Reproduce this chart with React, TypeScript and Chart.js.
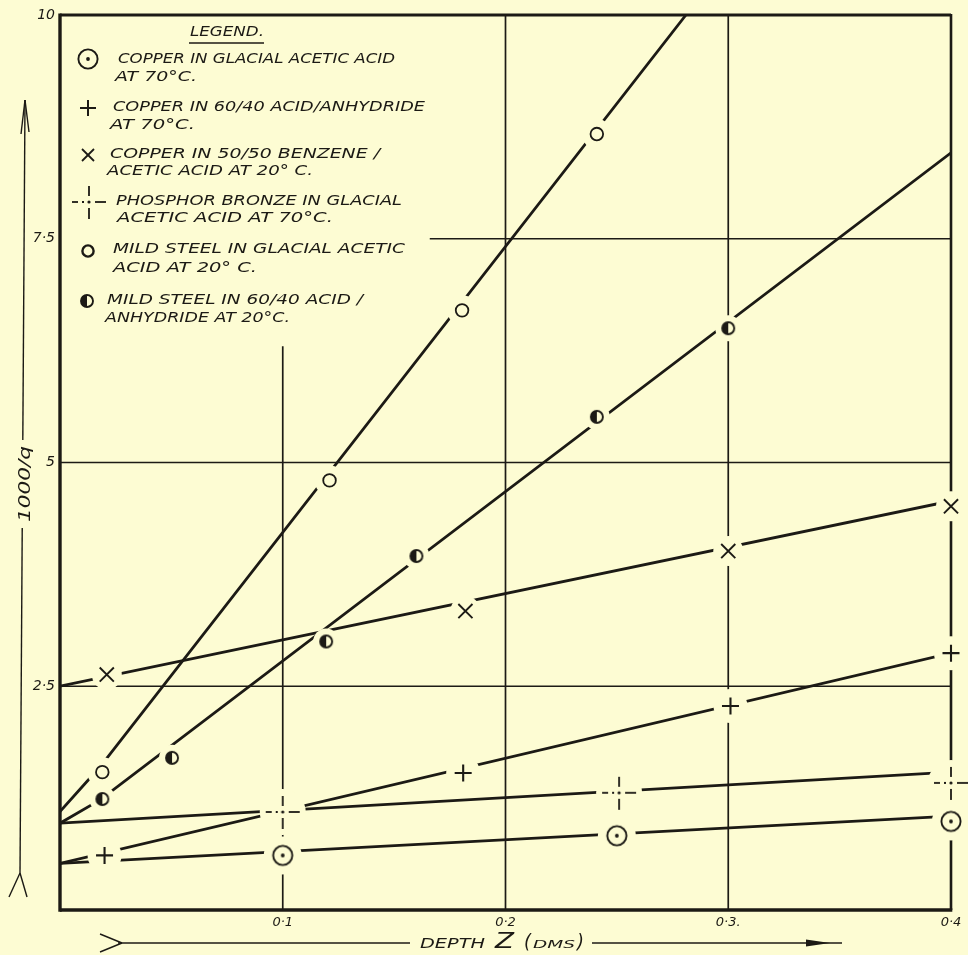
import React, { useEffect, useRef } from "react";
import { Chart, registerables } from "chart.js";

Chart.register(...registerables);

const BG = "#fdfcd3";
const INK = "#1c1a15";
const FAMILY = '"DejaVu Sans"';

// ---- axis ticks ----
const xTickValues = [0.1, 0.2, 0.3, 0.4];
const xTickLabels = ["0·1", "0·2", "0·3.", "0·4"];
const yTickValues = [2.5, 5, 7.5, 10];
const yTickLabels = ["2·5", "5", "7·5", "10"];

const xTitleParts = ["DEPTH", "Z", "(", "DMS", ")"];
const yTitle = "1000/q";
const legendTitle = "LEGEND.";

// ---- series: Copper in glacial acetic acid at 70°C ----
const cuGlacialName = ["COPPER IN GLACIAL ACETIC ACID", "AT 70°C."];
const cuGlacialX = [0.1, 0.25, 0.4];
const cuGlacialY = [0.61, 0.83, 0.99];
const cuGlacialFitX = [0, 0.4];
const cuGlacialFitY = [0.52, 1.05];

// ---- Copper in 60/40 acid/anhydride at 70°C ----
const cuAnhydName = ["COPPER IN 60/40 ACID/ANHYDRIDE", "AT 70°C."];
const cuAnhydX = [0.02, 0.181, 0.301, 0.4];
const cuAnhydY = [0.61, 1.53, 2.28, 2.87];
const cuAnhydFitX = [0, 0.4];
const cuAnhydFitY = [0.52, 2.87];

// ---- Copper in 50/50 benzene/acetic acid at 20°C ----
const cuBenzName = ["COPPER IN 50/50 BENZENE /", "ACETIC ACID AT 20° C."];
const cuBenzX = [0.021, 0.182, 0.3, 0.4];
const cuBenzY = [2.63, 3.34, 4.01, 4.51];
const cuBenzFitX = [0, 0.4];
const cuBenzFitY = [2.5, 4.57];

// ---- Phosphor bronze in glacial acetic acid at 70°C ----
const phosName = ["PHOSPHOR BRONZE IN GLACIAL", "ACETIC ACID AT 70°C."];
const phosX = [0.1, 0.251, 0.4];
const phosY = [1.095, 1.31, 1.42];
const phosFitX = [0, 0.4];
const phosFitY = [0.97, 1.54];

// ---- Mild steel in glacial acetic acid at 20°C ----
const msGlacialName = ["MILD STEEL IN GLACIAL ACETIC", "ACID AT 20° C."];
const msGlacialX = [0.019, 0.121, 0.1805, 0.241];
const msGlacialY = [1.54, 4.8, 6.7, 8.67];
const msGlacialFitX = [0, 0.018, 0.281];
const msGlacialFitY = [1.1, 1.6, 10];

// ---- Mild steel in 60/40 acid/anhydride at 20°C ----
const msAnhydName = ["MILD STEEL IN 60/40 ACID /", "ANHYDRIDE AT 20°C."];
const msAnhydX = [0.019, 0.0503, 0.1195, 0.16, 0.241, 0.3];
const msAnhydY = [1.24, 1.7, 3.0, 3.955, 5.51, 6.5];
const msAnhydFitX = [0, 0.018, 0.4];
const msAnhydFitY = [0.97, 1.23, 8.46];

// ---- partial grid rules (value space) ----
const vGridX = [0.1, 0.2, 0.3];
const vGridTop = [6.3, 10, 10];
const hGridY = [2.5, 5, 7.5];
const hGridStart = [0, 0, 0.166];

// ---- styling / layout (not data) ----
type MarkerKind = "dotCircle" | "plus" | "cross" | "dashCross" | "ring" | "half";
const seriesStyle: { marker: MarkerKind; halo: number }[] = [
  { marker: "dotCircle", halo: 19 },
  { marker: "plus", halo: 17 },
  { marker: "cross", halo: 15 },
  { marker: "dashCross", halo: 23 },
  { marker: "ring", halo: 15 },
  { marker: "half", halo: 13 },
];
const legendLayout = [
  { mx: 88, my: 59, l1: [118, 59, 395], l2: [115, 77, 197] },
  { mx: 88, my: 108, l1: [113, 107, 425], l2: [110, 125, 195] },
  { mx: 88, my: 155, l1: [110, 154, 380], l2: [107, 171, 313] },
  { mx: 89, my: 202, l1: [116, 201, 402], l2: [117, 218, 333] },
  { mx: 88, my: 251, l1: [113, 249, 405], l2: [113, 268, 257] },
  { mx: 87, my: 301, l1: [107, 300, 363], l2: [105, 318, 290] },
];

const allSeries = [
  { name: cuGlacialName, mx: cuGlacialX, my: cuGlacialY, fx: cuGlacialFitX, fy: cuGlacialFitY },
  { name: cuAnhydName, mx: cuAnhydX, my: cuAnhydY, fx: cuAnhydFitX, fy: cuAnhydFitY },
  { name: cuBenzName, mx: cuBenzX, my: cuBenzY, fx: cuBenzFitX, fy: cuBenzFitY },
  { name: phosName, mx: phosX, my: phosY, fx: phosFitX, fy: phosFitY },
  { name: msGlacialName, mx: msGlacialX, my: msGlacialY, fx: msGlacialFitX, fy: msGlacialFitY },
  { name: msAnhydName, mx: msAnhydX, my: msAnhydY, fx: msAnhydFitX, fy: msAnhydFitY },
];

function makeCanvas(w: number, h: number, draw: (ctx: CanvasRenderingContext2D) => void) {
  const c = document.createElement("canvas");
  c.width = w;
  c.height = h;
  const ctx = c.getContext("2d")!;
  draw(ctx);
  return c;
}

function buildMarkers() {
  const dotCircle = makeCanvas(26, 26, (ctx) => {
    ctx.fillStyle = BG;
    ctx.strokeStyle = INK;
    ctx.lineWidth = 1.9;
    ctx.beginPath();
    ctx.arc(13, 13, 9.6, 0, Math.PI * 2);
    ctx.fill();
    ctx.stroke();
    ctx.fillStyle = INK;
    ctx.beginPath();
    ctx.arc(13, 13, 1.9, 0, Math.PI * 2);
    ctx.fill();
  });
  const half = makeCanvas(18, 18, (ctx) => {
    ctx.fillStyle = BG;
    ctx.strokeStyle = INK;
    ctx.lineWidth = 1.9;
    ctx.beginPath();
    ctx.arc(9, 9, 6, 0, Math.PI * 2);
    ctx.fill();
    ctx.stroke();
    ctx.fillStyle = INK;
    ctx.beginPath();
    ctx.arc(9, 9, 6, Math.PI / 2, Math.PI * 1.5);
    ctx.closePath();
    ctx.fill();
  });
  const dashCross = makeCanvas(40, 40, (ctx) => {
    ctx.strokeStyle = INK;
    ctx.lineWidth = 1.8;
    const c = 20;
    const seg = (x1: number, y1: number, x2: number, y2: number) => {
      ctx.beginPath();
      ctx.moveTo(c + x1, c + y1);
      ctx.lineTo(c + x2, c + y2);
      ctx.stroke();
    };
    seg(-17, 0, -11, 0);
    seg(-7, 0, -5, 0);
    seg(6, 0, 17, 0);
    seg(0, -16, 0, -6);
    seg(0, 6, 0, 17);
    ctx.fillStyle = INK;
    ctx.beginPath();
    ctx.arc(c, c, 1.6, 0, Math.PI * 2);
    ctx.fill();
  });
  return { dotCircle, half, dashCross };
}

function pointOpts(kind: MarkerKind, m: ReturnType<typeof buildMarkers>) {
  switch (kind) {
    case "dotCircle":
      return { pointStyle: m.dotCircle, pointRadius: 10, pointBorderWidth: 0 };
    case "half":
      return { pointStyle: m.half, pointRadius: 6, pointBorderWidth: 0 };
    case "dashCross":
      return { pointStyle: m.dashCross, pointRadius: 10, pointBorderWidth: 0 };
    case "plus":
      return { pointStyle: "cross", pointRadius: 8.5, pointBorderWidth: 2.1 };
    case "cross":
      return { pointStyle: "crossRot", pointRadius: 10, pointBorderWidth: 1.9 };
    case "ring":
    default:
      return { pointStyle: "circle", pointRadius: 6.3, pointBorderWidth: 1.8 };
  }
}

function drawFit(ctx: CanvasRenderingContext2D, text: string, x: number, y: number, w: number, font: string) {
  ctx.font = font;
  const m = ctx.measureText(text).width || 1;
  ctx.save();
  ctx.translate(x, y);
  ctx.scale(w / m, 1);
  ctx.fillText(text, 0, 0);
  ctx.restore();
}

function seg(ctx: CanvasRenderingContext2D, x1: number, y1: number, x2: number, y2: number) {
  ctx.beginPath();
  ctx.moveTo(x1, y1);
  ctx.lineTo(x2, y2);
  ctx.stroke();
}

export default function App() {
  const ref = useRef<HTMLCanvasElement | null>(null);

  useEffect(() => {
    if (!ref.current) return;
    document.body.style.background = BG;
    const markers = buildMarkers();

    const datasets: any[] = [];
    allSeries.forEach((s, i) => {
      const st = seriesStyle[i];
      datasets.push({
        label: s.name.join(" ") + " (line)",
        data: s.fx.map((x, k) => ({ x, y: s.fy[k] })),
        showLine: true,
        borderColor: INK,
        borderWidth: 2.8,
        pointRadius: 0,
        fill: false,
        tension: 0,
        order: 3,
      });
      datasets.push({
        label: s.name.join(" ") + " (gap)",
        data: s.mx.map((x, k) => ({ x, y: s.my[k] })),
        showLine: false,
        pointStyle: "circle",
        pointRadius: st.halo,
        pointBackgroundColor: BG,
        pointBorderColor: BG,
        pointBorderWidth: 0,
        clip: false,
        order: 2,
      });
      datasets.push({
        label: s.name.join(" "),
        data: s.mx.map((x, k) => ({ x, y: s.my[k] })),
        showLine: false,
        pointBackgroundColor: BG,
        pointBorderColor: INK,
        clip: false,
        order: 1,
        ...pointOpts(st.marker, markers),
      });
    });

    const decor = {
      id: "decor",
      beforeDatasetsDraw(chart: any) {
        const { ctx, chartArea: a, scales } = chart;
        const xs = scales.x;
        const ys = scales.y;
        ctx.save();
        ctx.strokeStyle = INK;
        ctx.lineCap = "butt";
        ctx.lineWidth = 1.7;
        vGridX.forEach((v, i) => {
          const px = xs.getPixelForValue(v);
          seg(ctx, px, ys.getPixelForValue(0), px, ys.getPixelForValue(vGridTop[i]));
        });
        hGridY.forEach((v, i) => {
          const py = ys.getPixelForValue(v);
          seg(ctx, xs.getPixelForValue(hGridStart[i]), py, xs.getPixelForValue(0.4), py);
        });
        // frame
        ctx.lineWidth = 2.8;
        seg(ctx, a.left, a.top, a.right, a.top);
        ctx.lineWidth = 2.6;
        seg(ctx, a.right, a.top - 1, a.right, a.bottom);
        ctx.lineWidth = 3.4;
        seg(ctx, a.left, a.top - 1.4, a.left, a.bottom + 1.7);
        seg(ctx, a.left, a.bottom, a.right + 1.3, a.bottom);
        ctx.restore();
      },
      afterDraw(chart: any) {
        const { ctx } = chart;
        ctx.save();
        ctx.fillStyle = INK;
        ctx.strokeStyle = INK;
        ctx.textBaseline = "middle";
        ctx.textAlign = "left";
        const f = (sz: number) => `italic ${sz}px ${FAMILY}`;

        // legend title
        drawFit(ctx, legendTitle, 190, 32, 74, f(14.5));
        ctx.lineWidth = 1.4;
        seg(ctx, 189, 43, 264, 43);

        // legend entries
        allSeries.forEach((s, i) => {
          const L = legendLayout[i];
          const kind = seriesStyle[i].marker;
          ctx.lineWidth = 2;
          if (kind === "dotCircle") {
            ctx.drawImage(markers.dotCircle, L.mx - 13, L.my - 13);
          } else if (kind === "half") {
            ctx.drawImage(markers.half, L.mx - 9, L.my - 9);
          } else if (kind === "dashCross") {
            ctx.drawImage(markers.dashCross, L.mx - 20, L.my - 20);
          } else if (kind === "plus") {
            seg(ctx, L.mx - 8, L.my, L.mx + 8, L.my);
            seg(ctx, L.mx, L.my - 8, L.mx, L.my + 8);
          } else if (kind === "cross") {
            ctx.lineWidth = 1.8;
            seg(ctx, L.mx - 6, L.my - 6, L.mx + 6, L.my + 6);
            seg(ctx, L.mx - 6, L.my + 6, L.mx + 6, L.my - 6);
          } else {
            ctx.lineWidth = 2.4;
            ctx.beginPath();
            ctx.arc(L.mx, L.my, 5.6, 0, Math.PI * 2);
            ctx.stroke();
          }
          drawFit(ctx, s.name[0], L.l1[0], L.l1[1], L.l1[2] - L.l1[0], f(13.5));
          drawFit(ctx, s.name[1], L.l2[0], L.l2[1], L.l2[2] - L.l2[0], f(13.5));
        });

        // x title with arrows
        const ty = 943;
        ctx.lineWidth = 1.4;
        seg(ctx, 100, 934, 122, ty);
        seg(ctx, 100, 952, 122, ty);
        seg(ctx, 118, ty, 410, ty);
        seg(ctx, 592, ty, 842, ty);
        ctx.beginPath();
        ctx.moveTo(830, ty);
        ctx.lineTo(806, ty - 3.5);
        ctx.lineTo(806, ty + 3.5);
        ctx.closePath();
        ctx.fill();
        drawFit(ctx, xTitleParts[0], 420, ty + 1, 65, f(14));
        drawFit(ctx, xTitleParts[1], 495, ty, 19, f(21));
        drawFit(ctx, xTitleParts[2], 524, ty, 7, f(19));
        drawFit(ctx, xTitleParts[3], 533, ty + 2, 42, f(10.5));
        drawFit(ctx, xTitleParts[4], 577, ty, 7, f(19));

        // y title with arrows
        const xAt = (y: number) => 25 + ((y - 100) / (873 - 100)) * (20 - 25);
        ctx.lineWidth = 1.4;
        seg(ctx, xAt(100), 100, xAt(440), 440);
        seg(ctx, xAt(528), 528, xAt(873), 873);
        seg(ctx, 25, 100, 21, 134);
        seg(ctx, 25, 100, 29, 132);
        seg(ctx, 20, 873, 9, 897);
        seg(ctx, 20, 873, 27, 897);
        ctx.save();
        ctx.translate(26, 484);
        ctx.rotate(-Math.PI / 2);
        drawFit(ctx, yTitle, -38, 0, 76, f(16));
        ctx.restore();

        ctx.restore();
      },
    };

    const chart = new Chart(ref.current, {
      type: "scatter",
      data: { datasets },
      options: {
        animation: false,
        responsive: false,
        events: [],
        layout: { autoPadding: false, padding: { top: 15, right: 17, left: 0, bottom: 0 } },
        plugins: { legend: { display: false }, tooltip: { enabled: false } },
        scales: {
          x: {
            type: "linear",
            min: 0,
            max: 0.4,
            grid: { display: false, drawTicks: false },
            border: { display: false },
            afterBuildTicks: (s: any) => {
              s.ticks = xTickValues.map((value) => ({ value }));
            },
            afterFit: (s: any) => {
              s.height = 45;
              s.paddingLeft = 0;
              s.paddingRight = 0;
              s.paddingTop = 0;
              s.paddingBottom = 0;
            },
            ticks: {
              autoSkip: false,
              maxRotation: 0,
              padding: 5,
              color: INK,
              font: { family: "DejaVu Sans", style: "italic", size: 13 },
              callback: (_v: any, i: number) => xTickLabels[i],
            },
          },
          y: {
            type: "linear",
            min: 0,
            max: 10,
            grid: { display: false, drawTicks: false },
            border: { display: false },
            afterBuildTicks: (s: any) => {
              s.ticks = yTickValues.map((value) => ({ value }));
            },
            afterFit: (s: any) => {
              s.width = 60;
              s.paddingLeft = 0;
              s.paddingRight = 0;
              s.paddingTop = 0;
              s.paddingBottom = 0;
            },
            ticks: {
              autoSkip: false,
              padding: 5,
              color: INK,
              font: { family: "DejaVu Sans", style: "italic", size: 14 },
              callback: (_v: any, i: number) => yTickLabels[i],
            },
          },
        },
      },
      plugins: [decor],
    } as any);

    return () => chart.destroy();
  }, []);

  return (
    <div style={{ position: "fixed", left: 0, top: 0, width: 968, height: 955, background: BG }}>
      <canvas ref={ref} width={968} height={955} style={{ width: 968, height: 955, display: "block" }} />
    </div>
  );
}
